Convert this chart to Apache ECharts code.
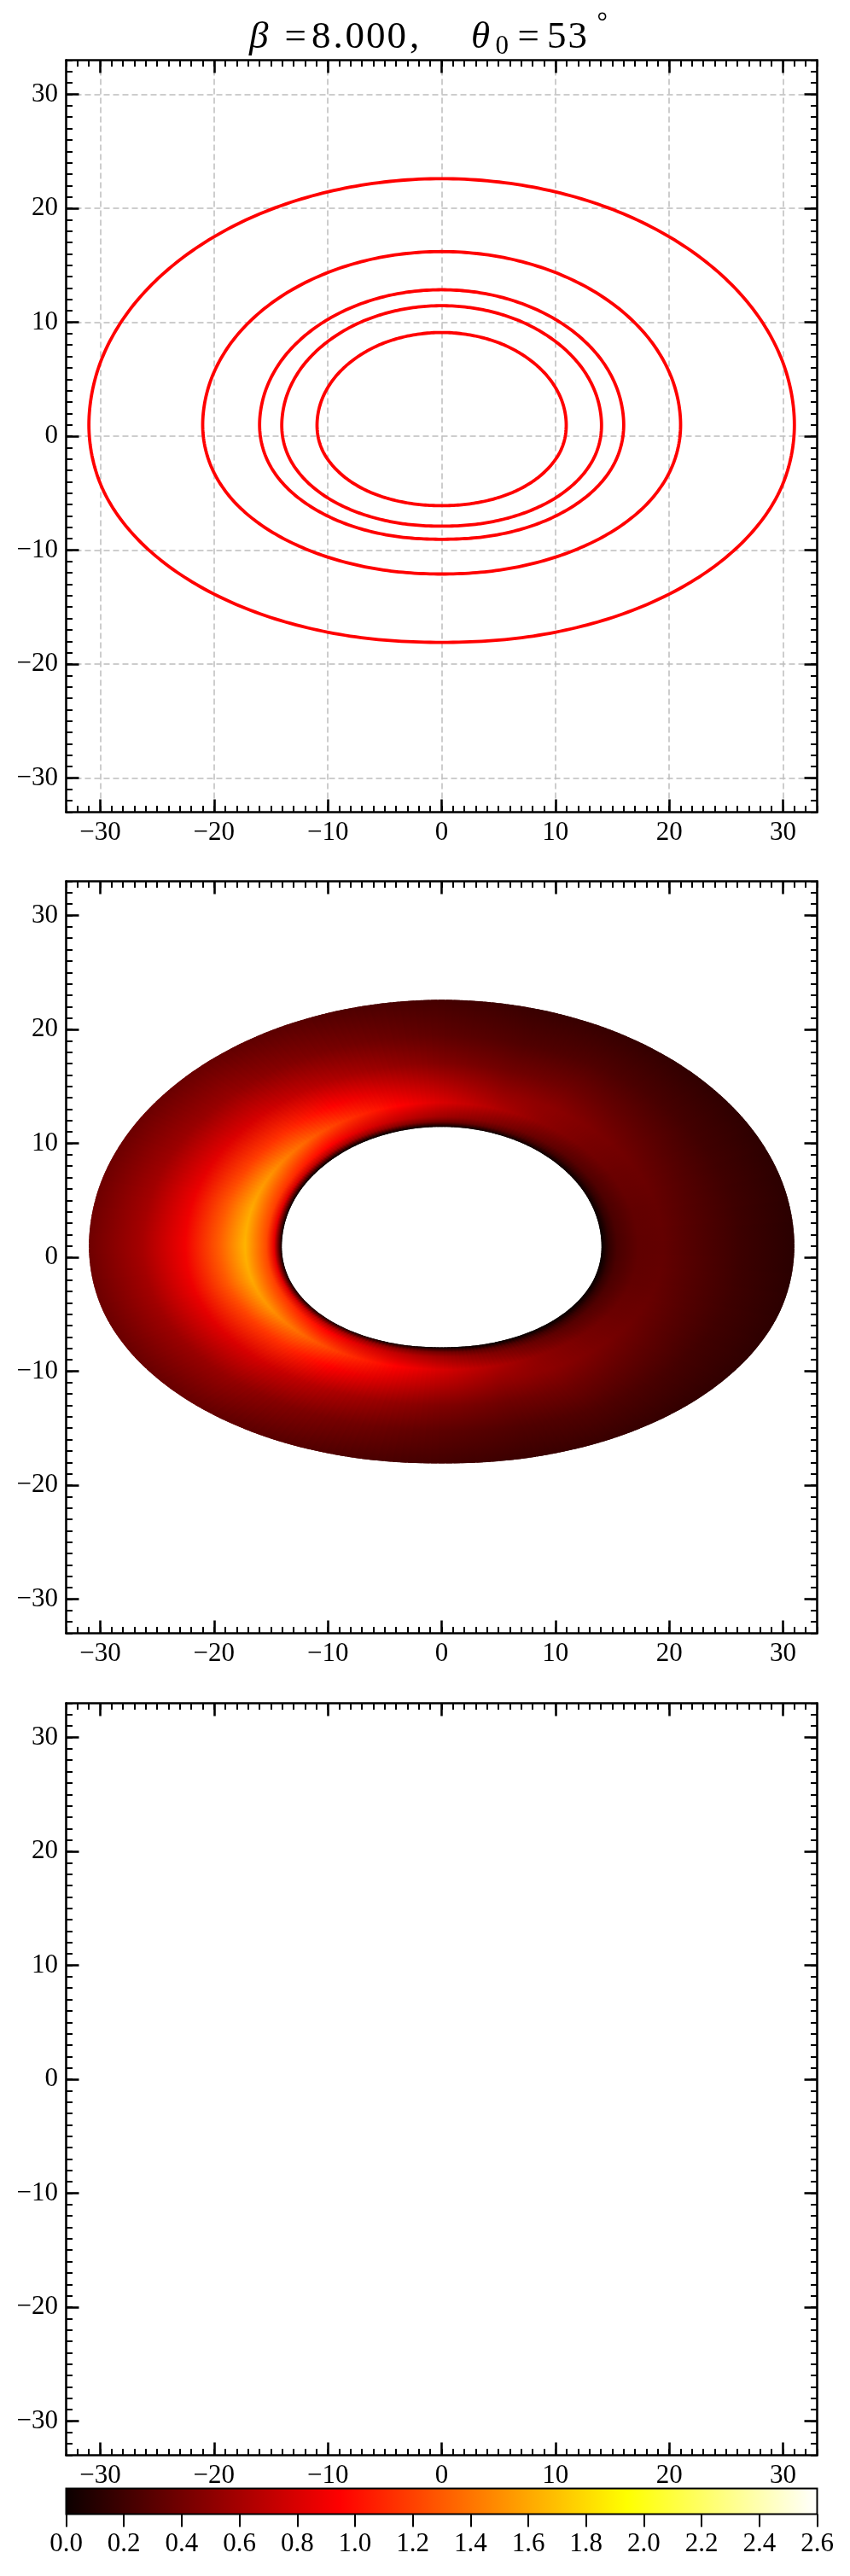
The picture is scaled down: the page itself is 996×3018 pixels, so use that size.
<!DOCTYPE html>
<html><head><meta charset="utf-8">
<script src="https://cdn.jsdelivr.net/npm/echarts@6/dist/echarts.min.js"></script>
<style>html,body{margin:0;padding:0;background:#fff}#c{width:996px;height:3018px}</style>
</head><body><div id="c"></div>
<script>
// ---------------- data ----------------
// isoradial curves (top panel); points counter-clockwise from the right extreme
const curve1 = [[31.0,1.0],[29.94,6.6],[26.85,11.8],[21.92,16.27],[15.5,19.71],[8.02,21.86],[0,22.6],[-8.02,21.86],[-15.5,19.71],[-21.92,16.27],[-26.85,11.8],[-29.94,6.6],[-31.0,1.0],[-29.94,-4.3],[-26.85,-8.9],[-21.92,-12.8],[-15.5,-15.75],[-8.02,-17.55],[0,-18.1],[8.02,-17.55],[15.5,-15.75],[21.92,-12.8],[26.85,-8.9],[29.94,-4.3]];
const curve2 = [[21.0,1.0],[20.28,4.93],[18.19,8.6],[14.85,11.75],[10.5,14.16],[5.44,15.68],[0,16.2],[-5.44,15.68],[-10.5,14.16],[-14.85,11.75],[-18.19,8.6],[-20.28,4.93],[-21.0,1.0],[-20.28,-2.6],[-18.19,-5.8],[-14.85,-8.45],[-10.5,-10.45],[-5.44,-11.7],[0,-12.1],[5.44,-11.7],[10.5,-10.45],[14.85,-8.45],[18.19,-5.8],[20.28,-2.6]];
const curve3 = [[16.0,1.0],[15.45,4.07],[13.86,6.93],[11.31,9.38],[8.0,11.26],[4.14,12.45],[0,12.85],[-4.14,12.45],[-8.0,11.26],[-11.31,9.38],[-13.86,6.93],[-15.45,4.07],[-16.0,1.0],[-15.45,-1.8],[-13.86,-4.25],[-11.31,-6.3],[-8.0,-7.85],[-4.14,-8.78],[0,-9.05],[4.14,-8.78],[8.0,-7.85],[11.31,-6.3],[13.86,-4.25],[15.45,-1.8]];
const curve4 = [[14.05,0.95],[13.57,3.67],[12.17,6.2],[9.93,8.37],[7.03,10.04],[3.64,11.09],[0,11.45],[-3.64,11.09],[-7.03,10.04],[-9.93,8.37],[-12.17,6.2],[-13.57,3.67],[-14.05,0.95],[-13.57,-1.5],[-12.17,-3.65],[-9.93,-5.47],[-7.03,-6.82],[-3.64,-7.65],[0,-7.9],[3.64,-7.65],[7.03,-6.82],[9.93,-5.47],[12.17,-3.65],[13.57,-1.5]];
const curve5 = [[10.95,0.95],[10.58,3.06],[9.48,5.03],[7.74,6.71],[5.48,8.01],[2.83,8.82],[0,9.1],[-2.83,8.82],[-5.48,8.01],[-7.74,6.71],[-9.48,5.03],[-10.58,3.06],[-10.95,0.95],[-10.58,-1.0],[-9.48,-2.7],[-7.74,-4.15],[-5.48,-5.23],[-2.83,-5.89],[0,-6.1],[2.83,-5.89],[5.48,-5.23],[7.74,-4.15],[9.48,-2.7],[10.58,-1.0]];

// flux map (middle panel): rows follow the vertex angles of the disk edges (deg),
// columns are fractions of the way from the inner edge (curve4) to the outer edge (curve1)
const fluxAngles = [0,15,30,45,60,75,90,105,120,135,150,165,180,195,210,225,240,255,270,285,300,315,330,345];
const fluxRadial = [0, 0.012, 0.04, 0.08, 0.19, 0.32, 0.5, 0.72, 1.0];
const fluxValues = [
  [0,0.04,0.15,0.24,0.33,0.34,0.27,0.19,0.12],
  [0,0.04,0.16,0.25,0.34,0.35,0.28,0.20,0.13],
  [0,0.05,0.17,0.27,0.37,0.38,0.30,0.21,0.14],
  [0,0.05,0.19,0.30,0.42,0.43,0.34,0.24,0.15],
  [0,0.07,0.24,0.37,0.51,0.50,0.39,0.27,0.17],
  [0,0.09,0.33,0.47,0.65,0.54,0.39,0.27,0.18],
  [0,0.11,0.40,0.58,0.80,0.66,0.46,0.32,0.22],
  [0,0.13,0.49,0.71,0.97,0.80,0.56,0.39,0.26],
  [0,0.16,0.58,0.85,1.16,0.95,0.67,0.46,0.31],
  [0,0.19,0.68,1.00,1.36,1.12,0.78,0.54,0.36],
  [0,0.22,0.80,1.14,1.52,1.20,0.83,0.56,0.37],
  [0,0.24,0.85,1.21,1.61,1.29,0.88,0.59,0.38],
  [0,0.25,0.87,1.24,1.65,1.32,0.90,0.61,0.39],
  [0,0.24,0.85,1.21,1.61,1.29,0.88,0.59,0.38],
  [0,0.22,0.80,1.14,1.52,1.20,0.83,0.56,0.37],
  [0,0.19,0.68,1.00,1.36,1.12,0.78,0.54,0.36],
  [0,0.16,0.58,0.85,1.16,0.95,0.67,0.46,0.31],
  [0,0.13,0.49,0.71,0.97,0.80,0.56,0.39,0.26],
  [0,0.11,0.40,0.58,0.80,0.66,0.46,0.32,0.22],
  [0,0.09,0.33,0.47,0.65,0.54,0.39,0.27,0.18],
  [0,0.07,0.24,0.37,0.51,0.50,0.39,0.27,0.17],
  [0,0.05,0.19,0.30,0.42,0.43,0.34,0.24,0.15],
  [0,0.05,0.17,0.27,0.37,0.38,0.30,0.21,0.14],
  [0,0.04,0.16,0.25,0.34,0.35,0.28,0.20,0.13]
];

// axes / ticks
const axisMin = -33, axisMax = 33;
const majorMin = -30, majorMax = 30, majorStep = 10;
const cbarMin = 0, cbarMax = 2.6, cbarStep = 0.2;
// title glyphs:  β = 8.000,   θ0 = 53°
const titleGlyphs = ['\u03b2', '=', '8', '.', '0', '0', '0', ',', '\u03b8', '0', '=', '5', '3', '\u00b0'];

// ---------------- helpers ----------------
const FONT = 'Liberation Serif';
function hot(v) {
  const t = Math.max(0, Math.min(1, (v - cbarMin) / (cbarMax - cbarMin)));
  const a = 0.365079, b = 0.746032;
  const r = t < a ? 0.0416 + (1 - 0.0416) * t / a : 1;
  const g = t < a ? 0 : (t < b ? (t - a) / (b - a) : 1);
  const bl = t < b ? 0 : (t - b) / (1 - b);
  return 'rgb(' + Math.round(r * 255) + ',' + Math.round(g * 255) + ',' + Math.round(bl * 255) + ')';
}
function cr(P, k, t) { // closed Catmull-Rom through pixel points
  const n = P.length;
  const p0 = P[(k - 1 + n) % n], p1 = P[k], p2 = P[(k + 1) % n], p3 = P[(k + 2) % n];
  const t2 = t * t, t3 = t2 * t;
  const f = i => 0.5 * (2 * p1[i] + (-p0[i] + p2[i]) * t + (2 * p0[i] - 5 * p1[i] + 4 * p2[i] - p3[i]) * t2 + (-p0[i] + 3 * p1[i] - 3 * p2[i] + p3[i]) * t3);
  return [f(0), f(1)];
}
const fmtInt = v => (v < 0 ? '\u2212' : '') + Math.abs(v);
const labelStyle = { fontFamily: FONT, fontSize: 31, color: '#000' };

const L = 77.5, W = 880, H = 881;
const grids = [], xAxes = [], yAxes = [], series = [];

function minorAxis(gi, pos) {
  return { gridIndex: gi, type: 'value', position: pos, min: axisMin, max: axisMax, interval: 1,
    axisLine: { show: true, onZero: false, lineStyle: { color: '#000', width: 2.6 } },
    axisTick: { show: true, inside: true, length: 7.5, lineStyle: { color: '#000', width: 2 } },
    axisLabel: { show: false }, splitLine: { show: false }, minorTick: { show: false } };
}
function majorAxis(gi, pos, labels, gridLines, isY) {
  return { gridIndex: gi, type: 'value', position: pos, min: majorMin, max: majorMax, interval: majorStep,
    axisLine: { show: false, onZero: false },
    axisTick: { show: true, inside: true, length: 15, lineStyle: { color: '#000', width: 2.6 } },
    axisLabel: Object.assign({ show: labels, margin: isY ? 9.5 : 8.5, formatter: fmtInt }, labelStyle),
    splitLine: { show: gridLines, lineStyle: { color: '#bdbdbd', width: 1.5, type: [7, 4] } } };
}
function addPanel(top, gridLines) {
  const gm = grids.length;
  grids.push({ left: L, top: top, width: W, height: H, outerBoundsMode: 'none', containLabel: false });
  const gx = grids.length;
  grids.push({ left: L + 3 * W / 66, top: top, width: W * 60 / 66, height: H, outerBoundsMode: 'none', containLabel: false });
  const gy = grids.length;
  grids.push({ left: L, top: top + 3 * H / 66, width: W, height: H * 60 / 66, outerBoundsMode: 'none', containLabel: false });
  const xi = xAxes.length;
  xAxes.push(minorAxis(gm, 'bottom'), minorAxis(gm, 'top'));
  xAxes.push(majorAxis(gx, 'bottom', true, gridLines, false), majorAxis(gx, 'top', false, false, false));
  xAxes.push({ gridIndex: gy, type: 'value', show: false, min: axisMin, max: axisMax });
  const yi = yAxes.length;
  yAxes.push(minorAxis(gm, 'left'), minorAxis(gm, 'right'));
  yAxes.push({ gridIndex: gx, type: 'value', show: false, min: axisMin, max: axisMax });
  yAxes.push(majorAxis(gy, 'left', true, gridLines, true), majorAxis(gy, 'right', false, false, true));
  return { xAxisIndex: xi, yAxisIndex: yi };
}

const p1 = addPanel(70.5, true);
const p2 = addPanel(1032.5, false);
const p3 = addPanel(1995.5, false);

// top panel: isoradials
const curves = [curve1, curve2, curve3, curve4, curve5];
series.push({
  type: 'custom', xAxisIndex: p1.xAxisIndex, yAxisIndex: p1.yAxisIndex, silent: true,
  data: curves.map((c, i) => [i, 0]),
  renderItem: function (params, api) {
    const c = curves[api.value(0)];
    const P = c.map(p => api.coord(p));
    const pts = [];
    const S = 16;
    for (let k = 0; k < P.length; k++) for (let s = 0; s < S; s++) pts.push(cr(P, k, s / S));
    return { type: 'polygon', shape: { points: pts }, style: { fill: 'none', stroke: '#ff0000', lineWidth: 3.8, lineJoin: 'round' } };
  }
});

// middle panel: flux map of the disk between curve4 (inner) and curve1 (outer)
series.push({
  type: 'custom', xAxisIndex: p2.xAxisIndex, yAxisIndex: p2.yAxisIndex, silent: true,
  data: fluxAngles.map((a, i) => [i, 0]),
  renderItem: function (params, api) {
    const k = api.value(0);
    const n = curve4.length, k2 = (k + 1) % n;
    const Pin = curve4.map(p => api.coord(p));
    const Pout = curve1.map(p => api.coord(p));
    const M = 12, d = 0.45 / M, children = [];
    for (let j = 0; j < M; j++) {
      const ta = j / M - d, tb = (j + 1) / M + d, tm = (j + 0.5) / M;
      const ia = cr(Pin, k, ta), ib = cr(Pin, k, tb), oa = cr(Pout, k, ta), ob = cr(Pout, k, tb);
      const im = cr(Pin, k, tm), om = cr(Pout, k, tm);
      const stops = fluxRadial.map((s, i) => ({ offset: s, color: hot((1 - tm) * fluxValues[k][i] + tm * fluxValues[k2][i]) }));
      const grad = new echarts.graphic.LinearGradient(im[0], im[1], om[0], om[1], stops, true);
      children.push({ type: 'polygon', shape: { points: [ia, ib, ob, oa] }, style: { fill: grad } });
    }
    return { type: 'group', children: children };
  }
});

// colorbar
const gc = grids.length;
grids.push({ left: L, top: 2915.5, width: W, height: 30, outerBoundsMode: 'none', containLabel: false });
const xc = xAxes.length;
xAxes.push({ gridIndex: gc, type: 'value', position: 'bottom', min: cbarMin, max: cbarMax, interval: cbarStep,
  axisLine: { show: false },
  axisTick: { show: true, inside: false, length: 15, lineStyle: { color: '#000', width: 2 } },
  axisLabel: Object.assign({ show: true, margin: 20, formatter: v => v.toFixed(1) }, labelStyle),
  splitLine: { show: false } });
const yc = yAxes.length;
yAxes.push({ gridIndex: gc, type: 'value', show: false, min: 0, max: 1 });
series.push({
  type: 'custom', xAxisIndex: xc, yAxisIndex: yc, silent: true,
  data: [[cbarMin, cbarMax]],
  renderItem: function (params, api) {
    const a = api.coord([api.value(0), 1]), b = api.coord([api.value(1), 0]);
    const grad = new echarts.graphic.LinearGradient(0, 0, 1, 0, [
      { offset: 0, color: hot(0) }, { offset: 0.365079, color: hot(0.365079 * 2.6) },
      { offset: 0.746032, color: hot(0.746032 * 2.6) }, { offset: 1, color: hot(2.6) }]);
    return { type: 'rect', shape: { x: a[0], y: a[1], width: b[0] - a[0], height: b[1] - a[1] },
      style: { fill: grad, stroke: '#000', lineWidth: 2 } };
  }
});

// title, glyph by glyph (math layout) using title components
const tX = [292, 333.5, 365, 390.5, 404.5, 429, 453.5, 480, 552, 580.5, 606.5, 641, 665.5, 699.5];
const tY = [44.5, 44.5, 44.5, 44.5, 44.5, 44.5, 44.5, 44.5, 44.5, 54.5, 44.5, 44.5, 44.5, 27.5];
const tS = [45, 45, 45, 45, 45, 45, 45, 45, 45, 31, 45, 45, 45, 31];
const tI = [true, false, false, false, false, false, false, false, true, false, false, false, false, false];
const titles = titleGlyphs.map((g, i) => ({
  text: g, left: tX[i], top: tY[i] - tS[i] / 2, padding: 0, itemGap: 0,
  textStyle: { fontFamily: FONT, fontSize: tS[i], fontStyle: tI[i] ? 'italic' : 'normal', fontWeight: 'normal',
    color: '#000', lineHeight: tS[i] }
}));

const chart = echarts.init(document.getElementById('c'), null, { renderer: 'canvas' });
chart.setOption({
  animation: false,
  backgroundColor: '#ffffff',
  title: titles,
  grid: grids, xAxis: xAxes, yAxis: yAxes, series: series
});
</script></body></html>
